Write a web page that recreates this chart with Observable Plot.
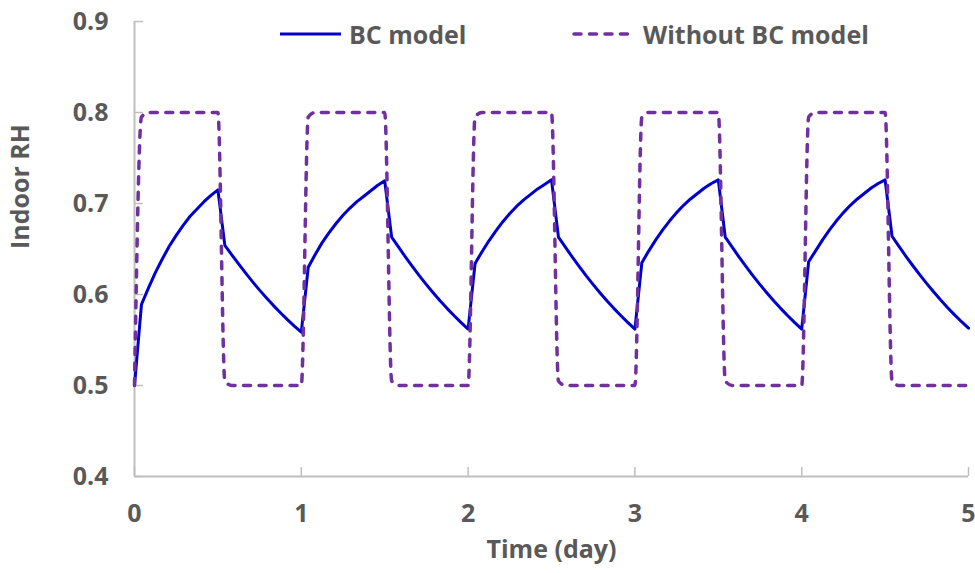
<!DOCTYPE html>
<html>
<head>
<meta charset="utf-8">
<script src="https://cdn.jsdelivr.net/npm/d3@7"></script>
<script src="https://cdn.jsdelivr.net/npm/@observablehq/plot@0.6"></script>
<style>
  html, body { margin: 0; padding: 0; background: #fff; }
  #wrap { position: relative; width: 975px; height: 573px; font-family: "Open Sans", sans-serif; }
  #legend { position: absolute; left: 0; top: 0; width: 975px; height: 70px; pointer-events: none; }
  .lg-item { position: absolute; top: 16px; height: 36px; display: flex; align-items: center; }
  .lg-text { font-size: 25px; font-weight: bold; color: #595959; white-space: nowrap; line-height: 36px; }
  .lg-sw { display: block; }
</style>
</head>
<body>
<div id="wrap">
  <div id="chart"></div>
  <div id="legend"></div>
</div>
<script>
// ---- data ----
const seriesNames = ["BC model", "Without BC model"];
const xTicks = [0, 1, 2, 3, 4, 5];
const yTicks = [0.4, 0.5, 0.6, 0.7, 0.8, 0.9];
const hoursPerDay = 24;

// hourly samples, hour 0 .. 120 (days 0..5)
const bcModel = [
  0.500,
  0.589, 0.607, 0.624, 0.639, 0.653, 0.665, 0.676, 0.686, 0.694, 0.702, 0.709, 0.715,
  0.654, 0.6435, 0.6333, 0.6234, 0.6139, 0.6048, 0.5961, 0.5878, 0.5799, 0.5724, 0.5653, 0.5586,
  0.630, 0.644, 0.657, 0.668, 0.678, 0.687, 0.695, 0.702, 0.708, 0.714, 0.720, 0.725,
  0.663, 0.652, 0.641, 0.6306, 0.6205, 0.6109, 0.6017, 0.5929, 0.5845, 0.5766, 0.5691, 0.562,
  0.634, 0.647, 0.659, 0.670, 0.680, 0.689, 0.697, 0.704, 0.710, 0.716, 0.721, 0.726,
  0.663, 0.652, 0.641, 0.6306, 0.6205, 0.6109, 0.6017, 0.5929, 0.5845, 0.5766, 0.5691, 0.562,
  0.635, 0.648, 0.660, 0.671, 0.681, 0.690, 0.698, 0.705, 0.711, 0.717, 0.722, 0.726,
  0.663, 0.652, 0.641, 0.6306, 0.6205, 0.6109, 0.6017, 0.5929, 0.5845, 0.5766, 0.5691, 0.562,
  0.636, 0.648, 0.660, 0.671, 0.681, 0.690, 0.698, 0.705, 0.711, 0.717, 0.722, 0.726,
  0.664, 0.653, 0.642, 0.6316, 0.6215, 0.6119, 0.6027, 0.5939, 0.5855, 0.5776, 0.5701, 0.563
];
const withoutBC = [
  0.500,
  0.795, 0.800, 0.800, 0.800, 0.800, 0.800, 0.800, 0.800, 0.800, 0.800, 0.800, 0.800,
  0.505, 0.500, 0.500, 0.500, 0.500, 0.500, 0.500, 0.500, 0.500, 0.500, 0.500, 0.500,
  0.795, 0.800, 0.800, 0.800, 0.800, 0.800, 0.800, 0.800, 0.800, 0.800, 0.800, 0.800,
  0.505, 0.500, 0.500, 0.500, 0.500, 0.500, 0.500, 0.500, 0.500, 0.500, 0.500, 0.500,
  0.795, 0.800, 0.800, 0.800, 0.800, 0.800, 0.800, 0.800, 0.800, 0.800, 0.800, 0.800,
  0.505, 0.500, 0.500, 0.500, 0.500, 0.500, 0.500, 0.500, 0.500, 0.500, 0.500, 0.500,
  0.795, 0.800, 0.800, 0.800, 0.800, 0.800, 0.800, 0.800, 0.800, 0.800, 0.800, 0.800,
  0.505, 0.500, 0.500, 0.500, 0.500, 0.500, 0.500, 0.500, 0.500, 0.500, 0.500, 0.500,
  0.795, 0.800, 0.800, 0.800, 0.800, 0.800, 0.800, 0.800, 0.800, 0.800, 0.800, 0.800,
  0.505, 0.500, 0.500, 0.500, 0.500, 0.500, 0.500, 0.500, 0.500, 0.500, 0.500, 0.500
];

// ---- build table ----
const bcData = bcModel.map((v, i) => ({t: i / hoursPerDay, rh: v, s: seriesNames[0]}));
const noData = withoutBC.map((v, i) => ({t: i / hoursPerDay, rh: v, s: seriesNames[1]}));

// ---- styles / layout ----
const W = 975, H = 573, mL = 134, mR = 7, mT = 21, mB = 97;
const plotW = W - mL - mR, plotH = H - mT - mB;
const axisColor = "#bfbfbf", textColor = "#595959";
const blue = "#0000cc", purple = "#7030a0";
const font = "Open Sans";
const fs = 25;
const dash = "7,8.5";

const chart = Plot.plot({
  width: W, height: H,
  marginLeft: mL, marginRight: mR, marginTop: mT, marginBottom: mB,
  style: {fontFamily: font, fontSize: fs + "px", fontWeight: "bold", color: textColor, background: "white"},
  x: {domain: [0, 5], label: null},
  y: {domain: [0.4, 0.9], label: null},
  marks: [
    Plot.axisX(xTicks, {tickSize: 0, tickPadding: 28, tickFormat: d => String(d), fontSize: fs, fontWeight: "bold", fill: textColor, label: null}),
    Plot.axisY(yTicks, {tickSize: 0, tickPadding: 26, tickFormat: d3.format(".1f"), fontSize: fs, fontWeight: "bold", fill: textColor, label: null}),
    Plot.tickX(xTicks, {x: d => d, stroke: axisColor, strokeWidth: 1.5, insetTop: plotH - 9}),
    Plot.tickY(yTicks, {y: d => d, stroke: axisColor, strokeWidth: 1.5, insetRight: plotW - 9}),
    Plot.ruleX([0], {stroke: axisColor, strokeWidth: 2}),
    Plot.ruleY([0.4], {stroke: axisColor, strokeWidth: 2}),
    Plot.line(bcData, {x: "t", y: "rh", stroke: blue, strokeWidth: 3, strokeLinejoin: "round"}),
    Plot.line(noData, {x: "t", y: "rh", stroke: purple, strokeWidth: 3.5, strokeDasharray: dash, strokeLinecap: "round", curve: "monotone-x"}),
    Plot.text(["Time (day)"], {frameAnchor: "bottom", dy: 81, fontSize: fs, fontWeight: "bold", fill: textColor}),
    Plot.text(["Indoor RH"], {frameAnchor: "left", dx: -114, rotate: -90, fontSize: fs, fontWeight: "bold", fill: textColor})
  ]
});
document.getElementById("chart").appendChild(chart);

// ---- legend (HTML overlay) ----
const legend = document.getElementById("legend");
const items = [
  {name: seriesNames[0], color: blue, dash: null, swLeft: 278, swW: 65, textLeft: 349},
  {name: seriesNames[1], color: purple, dash: dash, swLeft: 572, swW: 65, textLeft: 643}
];
for (const it of items) {
  const sw = document.createElement("div");
  sw.className = "lg-item";
  sw.style.left = it.swLeft + "px";
  sw.innerHTML = `<svg class="lg-sw" width="${it.swW}" height="36"><line x1="2" x2="${it.swW - 2}" y1="18" y2="18" stroke="${it.color}" stroke-width="${it.dash ? 3.5 : 3}" ${it.dash ? `stroke-dasharray="${it.dash}" stroke-linecap="round"` : ""}/></svg>`;
  legend.appendChild(sw);
  const tx = document.createElement("div");
  tx.className = "lg-item lg-text";
  tx.style.left = it.textLeft + "px";
  tx.textContent = it.name;
  legend.appendChild(tx);
}
</script>
</body>
</html>
